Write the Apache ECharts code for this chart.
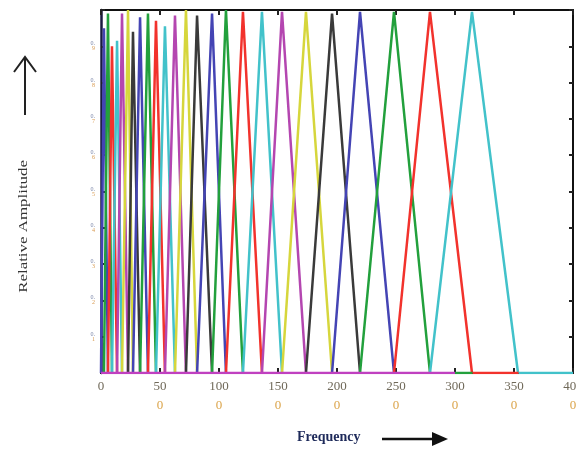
<!DOCTYPE html>
<html>
<head>
<meta charset="utf-8">
<script src="https://cdn.jsdelivr.net/npm/echarts@6/dist/echarts.min.js"></script>
<style>
html,body{margin:0;padding:0;background:#fff;}
#chart{width:576px;height:451px;}
</style>
</head>
<body>
<div id="chart"></div>
<script>
// Filter peak centres (Hz), in drawing order
var peakHz = [25, 59, 93, 136, 178, 229, 271, 331, 398, 466, 542, 627, 720, 814, 941, 1059, 1203, 1364, 1534, 1737, 1958, 2195, 2483, 2788, 3144];
// Last filter's right foot (Hz)
var lastFootHz = 3534;
// Peak heights
var peakHeight = [0.95, 0.99, 0.90, 0.915, 0.99, 1.0, 0.94, 0.98, 0.99, 0.97, 0.955, 0.985, 1.0, 0.985, 0.99, 1.0, 0.995, 0.995, 0.995, 0.995, 0.99, 0.995, 0.995, 0.995, 0.995];
// MATLAB-style colour cycle
var colorCycle = ['#4444b4', '#22a03c', '#f2322c', '#42c2ca', '#b446b0', '#d6d63c', '#3a3a3a'];
// Baseline segments visible along zero (Hz boundaries) and their colours
var baseStops = [0, 3000, 3150, 3540, 4000];
var baseColors = ['#c040c0', '#22a03c', '#f2322c', '#42c2ca'];
// Axis tick labels
var xTickLabels = ['0', '50\n0', '100\n0', '150\n0', '200\n0', '250\n0', '300\n0', '350\n0', '400\n0'];
var yTickLabels = ['', '0.\n1', '0.\n2', '0.\n3', '0.\n4', '0.\n5', '0.\n6', '0.\n7', '0.\n8', '0.\n9', ''];

var series = [];
for (var i = 0; i < peakHz.length; i++) {
  var left = i === 0 ? 0 : peakHz[i - 1];
  var right = i === peakHz.length - 1 ? lastFootHz : peakHz[i + 1];
  series.push({
    type: 'line', symbol: 'none', silent: true, z: 2 + i,
    lineStyle: { width: 2.5, color: colorCycle[i % 7] },
    data: [[left, 0], [peakHz[i], peakHeight[i]], [right, 0]]
  });
}
for (var j = 0; j < baseColors.length; j++) {
  series.push({
    type: 'line', symbol: 'none', silent: true, z: 40,
    lineStyle: { width: 2.5, color: baseColors[j] },
    data: [[baseStops[j], 0], [baseStops[j + 1], 0]]
  });
}

function xLab(v) {
  var idx = Math.round(v / 500);
  var s = xTickLabels[idx] || '';
  var parts = s.split('\n');
  if (parts.length === 1) return '{a|' + parts[0] + '}';
  return '{a|' + parts[0] + '}\n{b|' + parts[1] + '}';
}
function yLab(v) {
  var idx = Math.round(v * 10);
  var s = yTickLabels[idx] || '';
  if (!s) return '';
  var parts = s.split('\n');
  return '{a|' + parts[0] + '}\n{b|' + parts[1] + '}';
}

var chart = echarts.init(document.getElementById('chart'), null, { renderer: 'canvas' });
var axisLineStyle = { color: '#111', width: 2 };
chart.setOption({
  animation: false,
  backgroundColor: '#fff',
  grid: { left: 101, right: 3, top: 10, bottom: 78, containLabel: false, outerBoundsMode: 'none' },
  xAxis: [{
    type: 'value', min: 0, max: 4000, interval: 500, position: 'bottom',
    axisLine: { show: true, onZero: false, lineStyle: axisLineStyle },
    axisTick: { show: true, inside: true, length: 5, lineStyle: { color: '#222', width: 2 } },
    splitLine: { show: false },
    axisLabel: {
      margin: 4, formatter: xLab, hideOverlap: false,
      rich: {
        a: { fontFamily: 'Liberation Serif', fontSize: 13, color: '#6f6858', lineHeight: 19 },
        b: { fontFamily: 'Liberation Serif', fontSize: 13, color: '#dba44a', lineHeight: 19 }
      }
    }
  }, {
    type: 'value', min: 0, max: 4000, interval: 500, position: 'top',
    axisLine: { show: true, onZero: false, lineStyle: axisLineStyle },
    axisTick: { show: true, inside: true, length: 5, lineStyle: { color: '#222', width: 2 } },
    axisLabel: { show: false }, splitLine: { show: false }
  }],
  yAxis: [{
    type: 'value', min: 0, max: 1, interval: 0.1, position: 'left',
    axisLine: { show: true, onZero: false, lineStyle: { color: '#1a1a40', width: 2.5 } },
    axisTick: { show: true, inside: true, length: 4, lineStyle: { color: '#222', width: 2 } },
    splitLine: { show: false },
    axisLabel: {
      margin: 6, formatter: yLab,
      rich: {
        a: { fontFamily: 'Liberation Serif', fontSize: 6, color: '#7a86a8', lineHeight: 5 },
        b: { fontFamily: 'Liberation Serif', fontSize: 6, color: '#d89a50', lineHeight: 5 }
      }
    }
  }, {
    type: 'value', min: 0, max: 1, interval: 0.1, position: 'right',
    axisLine: { show: true, onZero: false, lineStyle: axisLineStyle },
    axisTick: { show: true, inside: true, length: 4, lineStyle: { color: '#222', width: 2 } },
    axisLabel: { show: false }, splitLine: { show: false }
  }],
  series: series,
  graphic: [
    { type: 'text', left: 17, top: 160, rotation: Math.PI / 2, scaleX: 1.3, silent: true,
      style: { text: 'Relative Amplitude', fontFamily: 'Liberation Serif', fontSize: 13, fill: '#333' } },
    { type: 'line', silent: true, shape: { x1: 25, y1: 57, x2: 25, y2: 115 }, style: { stroke: '#222', lineWidth: 2 } },
    { type: 'polyline', silent: true, shape: { points: [[14, 72], [25, 57], [36, 72]] }, style: { stroke: '#222', lineWidth: 2, fill: null } },
    { type: 'text', left: 297, top: 430, silent: true,
      style: { text: 'Frequency', fontFamily: 'Liberation Serif', fontSize: 14, fontWeight: 'bold', fill: '#1e2a5a' } },
    { type: 'line', silent: true, shape: { x1: 382, y1: 439, x2: 436, y2: 439 }, style: { stroke: '#111', lineWidth: 2.5 } },
    { type: 'polygon', silent: true, shape: { points: [[432, 432], [448, 439], [432, 446]] }, style: { fill: '#111' } }
  ]
});
</script>
</body>
</html>
